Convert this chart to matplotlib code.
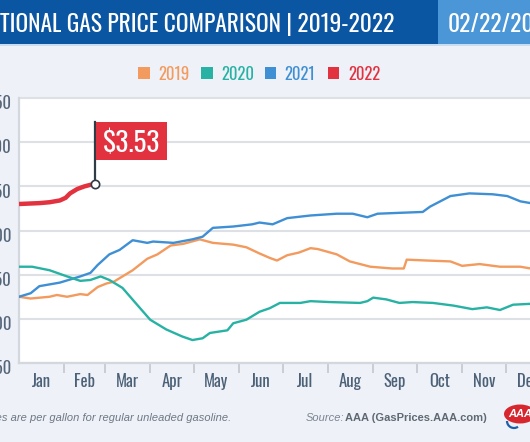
import matplotlib
matplotlib.use("Agg")
import matplotlib.pyplot as plt
from matplotlib.patches import Rectangle, Ellipse, Arc
from matplotlib.transforms import ScaledTranslation

# ---------------- data ----------------
title = "NATIONAL GAS PRICE COMPARISON | 2019-2022"
date_label = "02/22/2022"
footnote = "*Prices are per gallon for regular unleaded gasoline."
source_lead = "Source:"
source_name = "AAA (GasPrices.AAA.com)"

years = ["2019", "2020", "2021", "2022"]
months = ["Jan", "Feb", "Mar", "Apr", "May", "Jun",
          "Jul", "Aug", "Sep", "Oct", "Nov", "Dec"]
month_starts = [0, 31, 59, 90, 120, 151, 181, 212, 243, 273, 304, 334]
y_ticks = [1.50, 2.00, 2.50, 3.00, 3.50, 4.00, 4.50]

days_2019 = [0, 8, 21, 26, 33, 42, 47, 54, 60, 65, 71, 78, 88, 95, 104, 113,
             124, 133, 147, 156, 165, 172, 177, 184, 192, 200, 205, 218, 227,
             241, 256, 264, 266, 280, 296, 304, 316, 330, 344, 351, 365]
price_2019 = [2.25, 2.23, 2.25, 2.27, 2.25, 2.28, 2.27, 2.36, 2.40, 2.42, 2.48,
              2.55, 2.68, 2.73, 2.83, 2.85, 2.90, 2.86, 2.84, 2.81, 2.74, 2.69,
              2.66, 2.72, 2.75, 2.80, 2.79, 2.73, 2.65, 2.59, 2.57, 2.57, 2.67,
              2.66, 2.65, 2.60, 2.62, 2.59, 2.59, 2.57, 2.56]

days_2020 = [0, 9, 21, 33, 42, 49, 56, 62, 71, 81, 90, 101, 112, 119, 126, 131,
             143, 147, 156, 165, 172, 179, 193, 200, 213, 234, 239, 243, 252,
             261, 270, 284, 298, 311, 321, 330, 339, 351, 365]
price_2020 = [2.59, 2.59, 2.55, 2.48, 2.43, 2.44, 2.48, 2.44, 2.35, 2.16, 1.99,
              1.88, 1.80, 1.76, 1.78, 1.84, 1.87, 1.95, 1.99, 2.08, 2.12, 2.18,
              2.18, 2.20, 2.19, 2.18, 2.20, 2.24, 2.22, 2.18, 2.19, 2.18, 2.15,
              2.11, 2.13, 2.10, 2.16, 2.17, 2.17]

days_2021 = [0, 8, 14, 28, 42, 49, 54, 62, 69, 78, 88, 92, 106, 119, 126, 133,
             147, 160, 165, 174, 184, 200, 218, 229, 239, 246, 261, 277, 282,
             296, 309, 325, 335, 344, 351, 365]
price_2021 = [2.25, 2.29, 2.37, 2.41, 2.48, 2.52, 2.61, 2.73, 2.78, 2.89, 2.86,
              2.875, 2.86, 2.90, 2.93, 3.03, 3.045, 3.07, 3.09, 3.07, 3.14, 3.17,
              3.19, 3.19, 3.15, 3.19, 3.20, 3.21, 3.27, 3.39, 3.42, 3.41, 3.39,
              3.33, 3.31, 3.28]

days_2022 = [0, 14, 21, 28, 32, 35, 40, 45, 52]
price_2022 = [3.30, 3.31, 3.32, 3.34, 3.37, 3.42, 3.47, 3.50, 3.53]

# ---------------- style ----------------
W, H, DPI = 530, 442, 100
COND = ["Oswald", "Roboto Condensed", "Liberation Sans Narrow", "DejaVu Sans"]
SANS = ["Liberation Sans", "DejaVu Sans"]
C = {"2019": "#f39a5e", "2020": "#27b2a3", "2021": "#3f8fd5", "2022": "#e2323f"}
BG = "#eef2f8"
GRID = "#dde1e6"
SLATE = "#4c6177"

fig = plt.figure(figsize=(W / DPI, H / DPI), dpi=DPI, facecolor=BG)
renderer = fig.canvas.get_renderer()


def fx(px):
    return px / W


def fy(py):
    return 1 - py / H


def fit_size(s, target_px, base=20, **kw):
    t = fig.text(0, 0, s, fontsize=base, **kw)
    w = t.get_window_extent(renderer).width
    t.remove()
    return base * target_px / w


# header band
fig.patches.append(Rectangle((0, fy(44)), 1, 44 / H, transform=fig.transFigure,
                             facecolor="#0b56a3", edgecolor="none", zorder=0))
fig.patches.append(Rectangle((fx(438), fy(44)), 1, 44 / H, transform=fig.transFigure,
                             facecolor="#4a96d6", edgecolor="none", zorder=0))
fig.patches.append(Rectangle((0, fy(45.5)), 1, 1.5 / H, transform=fig.transFigure,
                             facecolor="#c9dcf0", edgecolor="none", zorder=0))
title_size = fit_size(title[2:], 394, family=COND)
fig.text(fx(394), fy(22), title, ha="right", va="center_baseline", color="white",
         fontsize=title_size, family=COND)
fig.text(fx(448), fy(22), date_label, ha="left", va="center_baseline", color="white",
         fontsize=title_size, family=COND)

# legend
leg_x0, leg_step = 138, 63.3
for i, yr in enumerate(years):
    x0 = leg_x0 + i * leg_step
    fig.patches.append(Rectangle((fx(x0), fy(79)), 11.5 / W, 11.5 / H,
                                 transform=fig.transFigure, facecolor=C[yr],
                                 edgecolor="none"))
    fig.text(fx(x0 + 20), fy(73.5), yr, ha="left", va="center_baseline", color=C[yr],
             fontsize=12, family=COND)

# axes
ax = fig.add_axes([fx(19), fy(363), 532 / W, 265 / H])
ax.set_facecolor("white")
ax.set_xlim(0, 365)
ax.set_ylim(y_ticks[0], y_ticks[-1])
for s in ["top", "right"]:
    ax.spines[s].set_visible(False)
for s in ["left", "bottom"]:
    ax.spines[s].set_color("#d3d8de")
    ax.spines[s].set_linewidth(1.6)

ax.set_yticks(y_ticks)
ax.set_yticklabels([f"${v:.2f}" for v in y_ticks], family=COND, fontsize=12,
                   color="#56667a")
ax.tick_params(axis="y", length=0, pad=5.4)
ax.yaxis.grid(True, color=GRID, lw=1.5)
for gl in ax.get_ygridlines():
    gl.set_clip_on(False)
shift = ScaledTranslation(0, -4 / DPI, fig.dpi_scale_trans)
for lab in ax.get_yticklabels():
    lab.set_transform(lab.get_transform() + shift)

ax.set_xticks(month_starts[1:])
ax.set_xticklabels([])
ax.tick_params(axis="x", which="major", length=7.5, width=1.4, color="#c9ced4",
               direction="out")
ends = month_starts[1:] + [365]
mids = [(a + b) / 2 for a, b in zip(month_starts, ends)]
ax.set_xticks(mids, minor=True)
ax.set_xticklabels(months, minor=True, family=COND, fontsize=12,
                   fontweight="bold", color=SLATE)
ax.tick_params(axis="x", which="minor", length=0, pad=7)
ax.set_axisbelow(True)

# series
ax.plot(days_2019, price_2019, color=C["2019"], lw=1.7, zorder=3)
ax.plot(days_2021, price_2021, color=C["2021"], lw=1.7, zorder=3)
ax.plot(days_2020, price_2020, color=C["2020"], lw=1.7, zorder=3)
ax.plot(days_2022, price_2022, color=C["2022"], lw=3.2, zorder=4,
        solid_capstyle="butt")

# flag annotation at latest value
d_end, p_end = days_2022[-1], price_2022[-1]
pole_top = p_end + 0.70
ax.plot([d_end, d_end], [p_end, pole_top], color="#2f3b46", lw=1.6, zorder=5,
        clip_on=False)
ax.add_patch(Rectangle((d_end + 0.5, pole_top - 0.43), 49, 0.43,
                       facecolor="#e2323f", edgecolor="none", zorder=5))
ax.text(d_end + 25, pole_top - 0.222, f"${p_end:.2f}", ha="center",
        va="center_baseline", color="white", fontsize=19.5, fontweight="medium",
        family=COND, zorder=6)
ax.plot([d_end], [p_end], "o", mfc="white", mec="#2f3b46", ms=6, mew=1.2,
        zorder=7)

# footer
fig.text(fx(231), fy(418), footnote, ha="right", va="center", color="#6e7884",
         fontsize=8, style="italic", family=SANS)
fig.text(fx(306), fy(418), source_lead, ha="left", va="center", color="#7a8490",
         fontsize=8, style="italic", family=SANS)
fig.text(fx(487), fy(418), source_name, ha="right", va="center", color="#5f6973",
         fontsize=8, fontweight="bold", family=SANS)

# AAA logo
fig.patches.append(Ellipse((fx(520), fy(414)), 32 / W, 19 / H,
                           transform=fig.transFigure, facecolor="#d8262f",
                           edgecolor="none"))
fig.patches.append(Arc((fx(514), fy(421)), 14 / W, 14 / H, theta1=180, theta2=300,
                       transform=fig.transFigure, edgecolor="#1f5fa8", lw=1.6))
fig.text(fx(520), fy(414), "AAA", ha="center", va="center", color="white",
         fontsize=8, fontweight="bold", style="italic", family=SANS)

fig.savefig("out.png", dpi=DPI, facecolor=BG)
